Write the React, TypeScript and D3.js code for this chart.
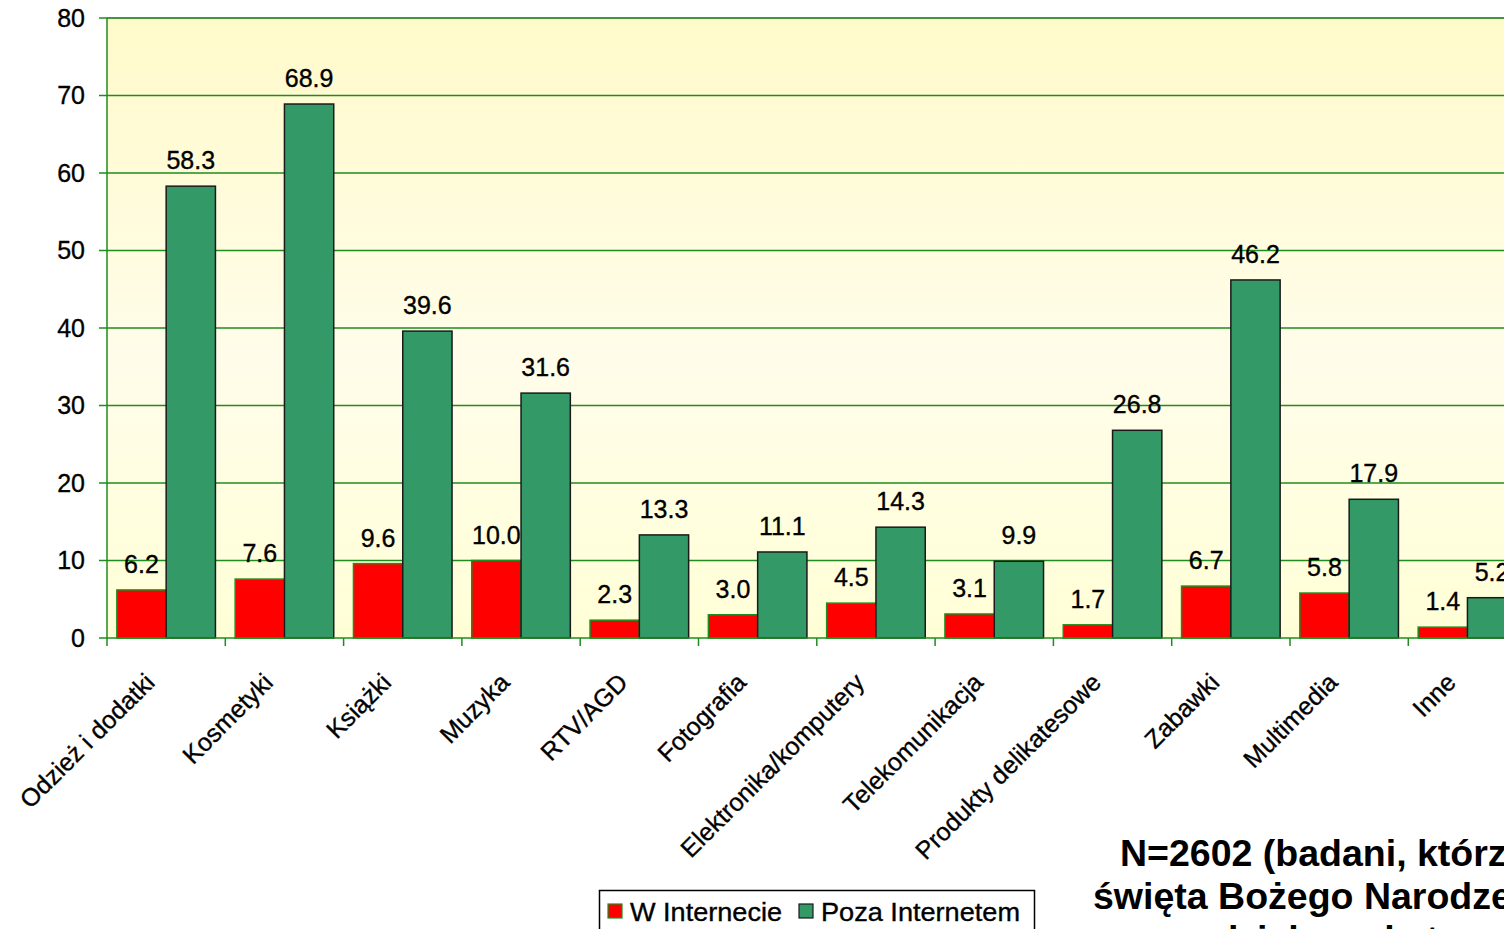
import React from "react";
import * as d3 from "d3";

const categories = [
  "Odzież i dodatki",
  "Kosmetyki",
  "Książki",
  "Muzyka",
  "RTV/AGD",
  "Fotografia",
  "Elektronika/komputery",
  "Telekomunikacja",
  "Produkty delikatesowe",
  "Zabawki",
  "Multimedia",
  "Inne",
];
const wInternecie = [6.2, 7.6, 9.6, 10.0, 2.3, 3.0, 4.5, 3.1, 1.7, 6.7, 5.8, 1.4];
const pozaInternetem = [58.3, 68.9, 39.6, 31.6, 13.3, 11.1, 14.3, 9.9, 26.8, 46.2, 17.9, 5.2];
const seriesNames = ["W Internecie", "Poza Internetem"];
const yTicks = [0, 10, 20, 30, 40, 50, 60, 70, 80];
const noteLines = [
  "N=2602 (badani, którzy kupowali prezenty na",
  "święta Bożego Narodzenia w tym roku,",
  "w podziale na kategorie produktów)",
];

const W = 1504;
const H = 929;
const FONT = "Arial, 'Liberation Sans', sans-serif";

export default function App() {
  const x0 = 107;
  const x1 = 107 + 12 * 118.3;
  const yTop = 18;
  const yBottom = 638;

  const x = d3.scaleBand<string>().domain(categories).range([x0, x1]).padding(0);
  const inner = d3
    .scaleBand<string>()
    .domain(seriesNames)
    .range([0, x.bandwidth()])
    .paddingInner(0)
    .paddingOuter(0.2);
  const y = d3.scaleLinear().domain([0, 80]).range([yBottom, yTop]);

  const series = [
    { name: seriesNames[0], values: wInternecie, fill: "#FF0000", stroke: "#1E8C1E" },
    { name: seriesNames[1], values: pozaInternetem, fill: "#339966", stroke: "#1a1a1a" },
  ];

  const fmt = d3.format(".1f");
  const heavy = { stroke: "#000", strokeWidth: 0.35 };

  return (
    <svg
      width={W}
      height={H}
      style={{ position: "absolute", left: 0, top: 0, background: "#fff" }}
      fontFamily={FONT}
    >
      <defs>
        <linearGradient id="bg" x1="0" y1="0" x2="0" y2="1">
          <stop offset="0%" stopColor="#FFFACA" />
          <stop offset="55%" stopColor="#FFFDEA" />
          <stop offset="100%" stopColor="#FFFFD6" />
        </linearGradient>
      </defs>
      <rect x={x0} y={yTop} width={x1 - x0} height={yBottom - yTop} fill="url(#bg)" />
      <line x1={x0} x2={x1} y1={yTop} y2={yTop} stroke="#9a9a9a" strokeWidth={1.5} />
      {yTicks.map((t) => (
        <g key={t}>
          {t > 0 && (
            <line x1={x0} x2={x1} y1={y(t)} y2={y(t)} stroke="#1E8C1E" strokeWidth={1.5} />
          )}
          <line x1={x0 - 8} x2={x0} y1={y(t)} y2={y(t)} stroke="#1E8C1E" strokeWidth={1.5} />
          <text x={85} y={y(t) + 8.5} textAnchor="end" fontSize={25} fill="#000" {...heavy}>
            {t}
          </text>
        </g>
      ))}
      {categories.map((c, i) => (
        <g key={c}>
          {series.map((s) => {
            const v = s.values[i];
            const bx = (x(c) as number) + (inner(s.name) as number);
            const bw = inner.bandwidth();
            return (
              <g key={s.name}>
                <rect
                  x={bx}
                  y={y(v)}
                  width={bw}
                  height={y(0) - y(v)}
                  fill={s.fill}
                  stroke={s.stroke}
                  strokeWidth={1.5}
                />
                <text
                  x={bx + bw / 2}
                  y={y(v) - 17}
                  textAnchor="middle"
                  fontSize={25}
                  fill="#000"
                  {...heavy}
                >
                  {fmt(v)}
                </text>
              </g>
            );
          })}
        </g>
      ))}
      <line x1={x0} x2={x0} y1={yTop} y2={yBottom} stroke="#1E8C1E" strokeWidth={1.5} />
      <line x1={x0} x2={x1} y1={yBottom} y2={yBottom} stroke="#1E8C1E" strokeWidth={1.5} />
      {categories.map((c) => (
        <line
          key={"t" + c}
          x1={x(c) as number}
          x2={x(c) as number}
          y1={yBottom}
          y2={yBottom + 8}
          stroke="#1E8C1E"
          strokeWidth={1.5}
        />
      ))}
      {categories.map((c) => {
        const cx = (x(c) as number) + x.bandwidth() / 2 - 10;
        const cy = 684;
        return (
          <text
            key={"l" + c}
            transform={`translate(${cx},${cy}) rotate(-45)`}
            textAnchor="end"
            fontSize={25}
            fill="#000"
            {...heavy}
          >
            {c}
          </text>
        );
      })}
      {/* legend */}
      <rect x={599.5} y={890.5} width={435} height={60} fill="#fff" stroke="#000" strokeWidth={1.5} />
      <rect x={608} y={904} width={14} height={14} fill="#FF0000" stroke="#1E8C1E" strokeWidth={1.2} />
      <text x={630} y={921} fontSize={25} textLength={152} lengthAdjust="spacingAndGlyphs" {...heavy}>
        {seriesNames[0]}
      </text>
      <rect x={799} y={904} width={14} height={14} fill="#339966" stroke="#1a1a1a" strokeWidth={1.2} />
      <text x={821} y={921} fontSize={25} textLength={199} lengthAdjust="spacingAndGlyphs" {...heavy}>
        {seriesNames[1]}
      </text>
      {/* note */}
      {noteLines.map((l, i) => (
        <text
          key={i}
          x={[1120, 1093, 1130][i]}
          y={866 + i * 43}
          fontSize={37.5}
          fontWeight="bold"
          fill="#000"
        >
          {l}
        </text>
      ))}
    </svg>
  );
}
